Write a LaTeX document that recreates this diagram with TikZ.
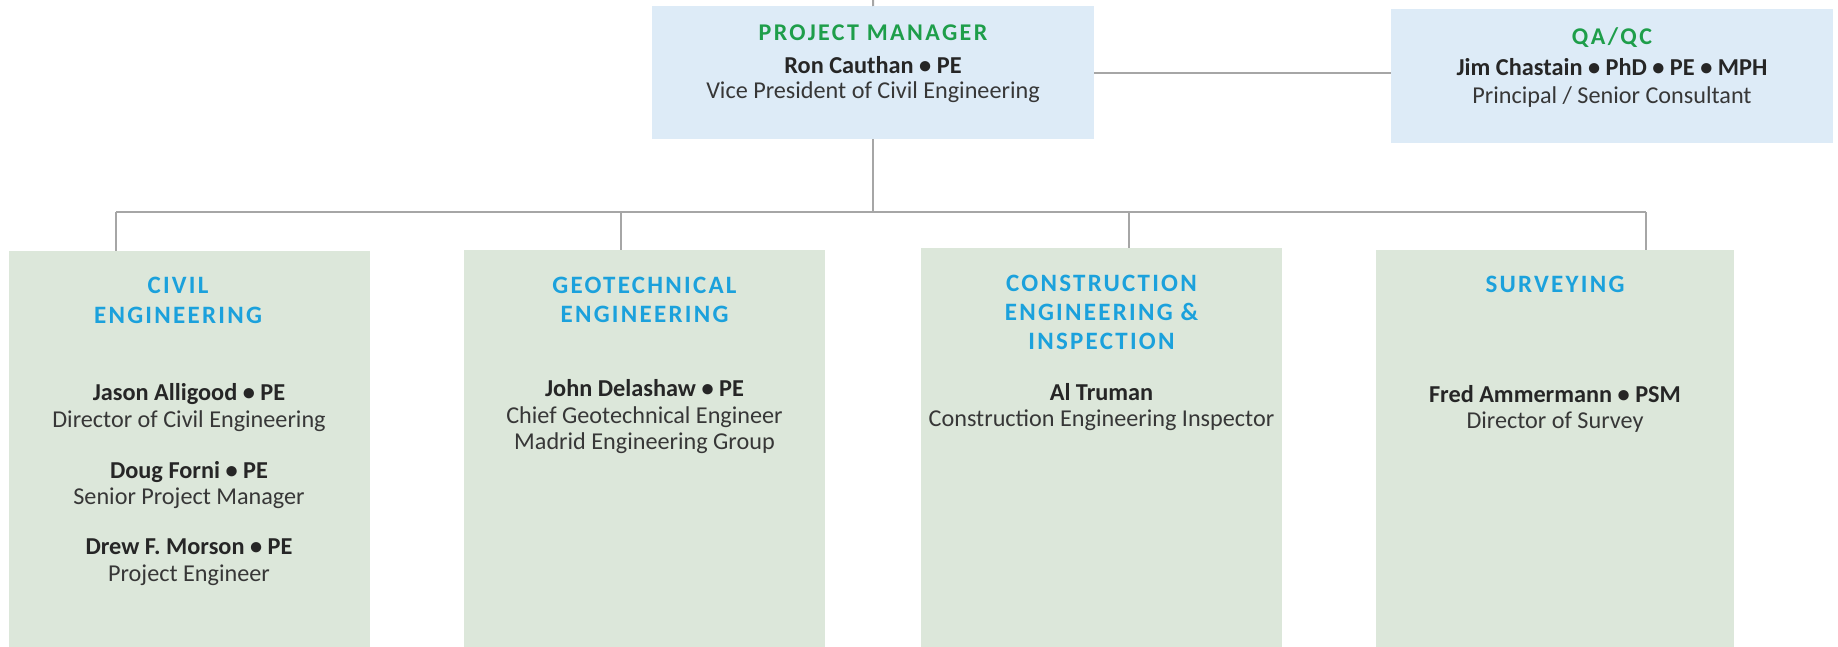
\documentclass[tikz,border=0pt]{standalone}
\usepackage{fontspec}
\setmainfont{Carlito}
\newfontfamily\pmfont[LetterSpace=10]{Carlito}
\newfontfamily\deptfont[LetterSpace=9]{Carlito}
\definecolor{pmgreen}{RGB}{30,158,74}
\definecolor{deptblue}{RGB}{27,161,220}
\definecolor{topfill}{RGB}{221,235,247}
\definecolor{deptfill}{RGB}{220,231,218}
\definecolor{linegray}{RGB}{166,166,166}
\definecolor{nametext}{RGB}{38,38,38}
\definecolor{roletext}{RGB}{55,55,55}
\tikzset{
  topbox/.style={fill=topfill, draw=none, anchor=north west, inner sep=0pt},
  deptbox/.style={fill=deptfill, draw=none, anchor=north west, inner sep=0pt},
  conn/.style={draw=linegray, line width=2pt},
  pmhead/.style={anchor=base, inner sep=0pt, text=pmgreen, font=\pmfont\bfseries\fontsize{24}{28}\selectfont},
  depthead/.style={anchor=base, inner sep=0pt, text=deptblue, font=\deptfont\bfseries\fontsize{25}{29}\selectfont},
  nametxt/.style={anchor=base, inner sep=0pt, text=nametext, font=\bfseries\fontsize{24.3}{28}\selectfont},
  roletxt/.style={anchor=base, inner sep=0pt, text=roletext, font=\fontsize{24.2}{28}\selectfont},
}
\begin{document}
\begin{tikzpicture}[x=1pt,y=-1pt]
\useasboundingbox (0,0) rectangle (1838,647);
% boxes
\node[topbox, minimum width=442pt, minimum height=133pt] (pm) at (652,6) {};
\node[topbox, minimum width=442pt, minimum height=134pt] (qa) at (1391,9) {};
\node[deptbox, minimum width=361pt, minimum height=396pt] (civil) at (9,251) {};
\node[deptbox, minimum width=361pt, minimum height=397pt] (geo) at (464,250) {};
\node[deptbox, minimum width=361pt, minimum height=399pt] (cons) at (921,248) {};
\node[deptbox, minimum width=358pt, minimum height=397pt] (surv) at (1376,250) {};
% connectors
\coordinate (top) at (873,0);
\coordinate (qalink) at (1391,73);
\coordinate (b1) at (116,212);
\coordinate (b2) at (621,212);
\coordinate (b3) at (1129,212);
\coordinate (b4) at (1646,212);
\draw[conn] (top) -- (pm.north);
\draw[conn] (qalink -| pm.east) -- (qalink);
\draw[conn] (pm.south) -- (pm.south |- b1);
\draw[conn] (b1) -- (b4);
\draw[conn] (b1) -- (b1 |- civil.north);
\draw[conn] (b2) -- (b2 |- geo.north);
\draw[conn] (b3) -- (b3 |- cons.north);
\draw[conn] (b4) -- (b4 |- surv.north);
% PM text
\node[pmhead] (pmt) at (873,41) {PROJECT MANAGER};
\node[nametxt] (pmn) at (873,74) {Ron Cauthan • PE};
\node[roletxt] (pmr) at (873,99) {Vice President of Civil Engineering};
% QA text
\node[pmhead] (qat) at (1612,45) {QA/QC};
\node[nametxt] (qan) at (1612,76) {Jim Chastain • PhD • PE • MPH};
\node[roletxt] (qar) at (1612,104) {Principal / Senior Consultant};
% Civil
\node[depthead] (ct1) at (178,293) {CIVIL};
\node[depthead] (ct2) at (178,323) {ENGINEERING};
\node[nametxt] (cn1) at (189,400) {Jason Alligood • PE};
\node[roletxt] (cr1) at (189,427) {Director of Civil Engineering};
\node[nametxt] (cn2) at (189,478) {Doug Forni • PE};
\node[roletxt] (cr2) at (189,504) {Senior Project Manager};
\node[nametxt] (cn3) at (189,554) {Drew F. Morson • PE};
\node[roletxt] (cr3) at (189,581) {Project Engineer};
% Geo
\node[depthead] (gt1) at (644.5,293) {GEOTECHNICAL};
\node[depthead] (gt2) at (644.5,322) {ENGINEERING};
\node[nametxt] (gn1) at (644.5,396) {John Delashaw • PE};
\node[roletxt] (gr1) at (644.5,423) {Chief Geotechnical Engineer};
\node[roletxt] (gr2) at (644.5,449) {Madrid Engineering Group};
% Construction
\node[depthead] (kt1) at (1101.5,291) {CONSTRUCTION};
\node[depthead] (kt2) at (1101.5,320) {ENGINEERING \&};
\node[depthead] (kt3) at (1101.5,349) {INSPECTION};
\node[nametxt] (kn1) at (1101.5,400) {Al Truman};
\node[roletxt] (kr1) at (1101.5,426) {Construction Engineering Inspector};
% Surveying
\node[depthead] (st1) at (1555,292) {SURVEYING};
\node[nametxt] (sn1) at (1555,402) {Fred Ammermann • PSM};
\node[roletxt] (sr1) at (1555,428) {Director of Survey};
\end{tikzpicture}
\end{document}
